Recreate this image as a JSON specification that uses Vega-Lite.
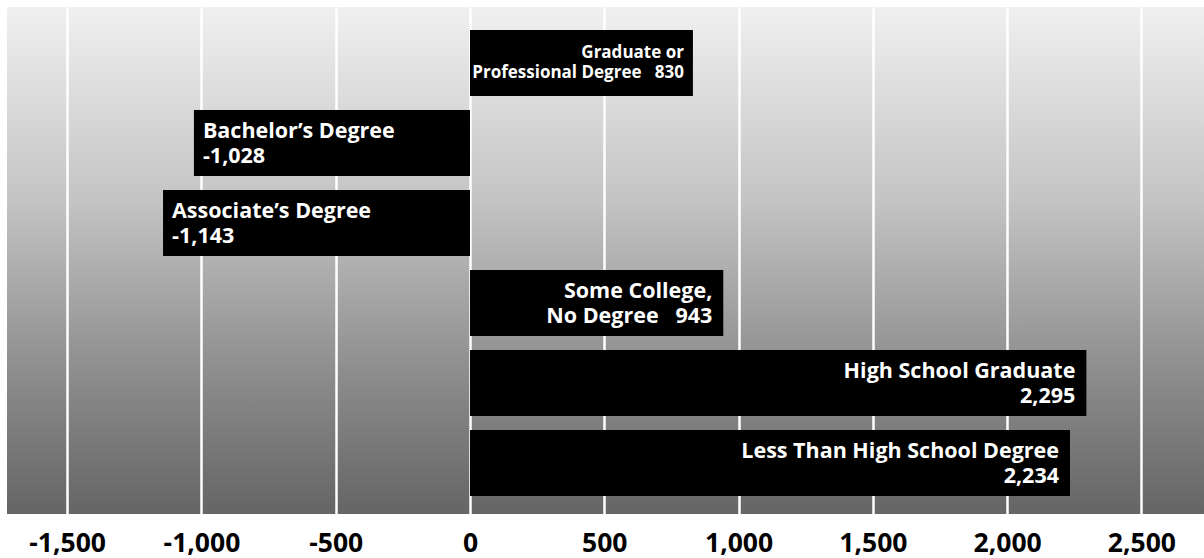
{
  "$schema": "https://vega.github.io/schema/vega-lite/v6.json",
  "width": 1197,
  "height": 507,
  "autosize": {"type": "none"},
  "padding": {"left": 7, "top": 7, "right": 0, "bottom": 44},
  "background": "white",
  "config": {
    "view": {
      "stroke": null,
      "fill": {
        "gradient": "linear",
        "x1": 0, "y1": 0, "x2": 0, "y2": 1,
        "stops": [
          {"offset": 0, "color": "#f0f0f0"},
          {"offset": 0.38, "color": "#c4c4c4"},
          {"offset": 0.74, "color": "#8a8a8a"},
          {"offset": 1, "color": "#656565"}
        ]
      }
    },
    "text": {"font": "Open Sans"}
  },
  "data": {
    "values": [
      {"category": "Graduate or Professional Degree", "value": 830, "label": ["Graduate or", "Professional Degree\u00a0\u00a0 830"], "group": "small"},
      {"category": "Bachelor’s Degree", "value": -1028, "label": ["Bachelor’s Degree", "-1,028"], "group": "neg"},
      {"category": "Associate’s Degree", "value": -1143, "label": ["Associate’s Degree", "-1,143"], "group": "neg"},
      {"category": "Some College, No Degree", "value": 943, "label": ["Some College,", "No Degree\u00a0\u00a0 943"], "group": "pos"},
      {"category": "High School Graduate", "value": 2295, "label": ["High School Graduate", "2,295"], "group": "pos"},
      {"category": "Less Than High School Degree", "value": 2234, "label": ["Less Than High School Degree", "2,234"], "group": "pos"}
    ]
  },
  "encoding": {
    "y": {
      "field": "category",
      "type": "nominal",
      "sort": null,
      "axis": null,
      "scale": {"paddingInner": 0.175, "paddingOuter": 0.256, "align": 0.56}
    }
  },
  "layer": [
    {
      "mark": {"type": "bar", "color": "#000000"},
      "encoding": {
        "x": {
          "field": "value",
          "type": "quantitative",
          "scale": {"domain": [-1724, 2733], "nice": false, "zero": false},
          "axis": {
            "values": [-1500, -1000, -500, 0, 500, 1000, 1500, 2000, 2500],
            "labelExpr": "replace(format(datum.value, ',.0f'), '\u2212', '-')",
            "title": null,
            "domain": false,
            "ticks": false,
            "grid": true,
            "gridColor": "#ffffff",
            "gridWidth": 2.5,
            "gridOpacity": 1,
            "labelFont": "Open Sans",
            "labelFontSize": 26.5,
            "labelFontWeight": "bold",
            "labelColor": "#000000",
            "labelBaseline": "alphabetic",
            "labelPadding": 37,
            "labelFlush": false,
            "labelOverlap": false
          }
        },
        "x2": {"datum": 0}
      }
    },
    {
      "transform": [{"filter": "datum.group === 'pos'"}],
      "mark": {"type": "text", "align": "right", "baseline": "middle", "dx": -11, "dy": -11, "fontSize": 21.5, "fontWeight": "bold", "lineHeight": 25, "color": "#ffffff"},
      "encoding": {
        "x": {"field": "value", "type": "quantitative"},
        "text": {"field": "label"}
      }
    },
    {
      "transform": [{"filter": "datum.group === 'small'"}],
      "mark": {"type": "text", "align": "right", "baseline": "middle", "dx": -9, "dy": -10, "fontSize": 17, "fontWeight": "bold", "lineHeight": 20, "color": "#ffffff"},
      "encoding": {
        "x": {"field": "value", "type": "quantitative"},
        "text": {"field": "label"}
      }
    },
    {
      "transform": [{"filter": "datum.group === 'neg'"}],
      "mark": {"type": "text", "align": "left", "baseline": "middle", "dx": 9, "dy": -11, "fontSize": 21.5, "fontWeight": "bold", "lineHeight": 25, "color": "#ffffff"},
      "encoding": {
        "x": {"field": "value", "type": "quantitative"},
        "text": {"field": "label"}
      }
    }
  ]
}
